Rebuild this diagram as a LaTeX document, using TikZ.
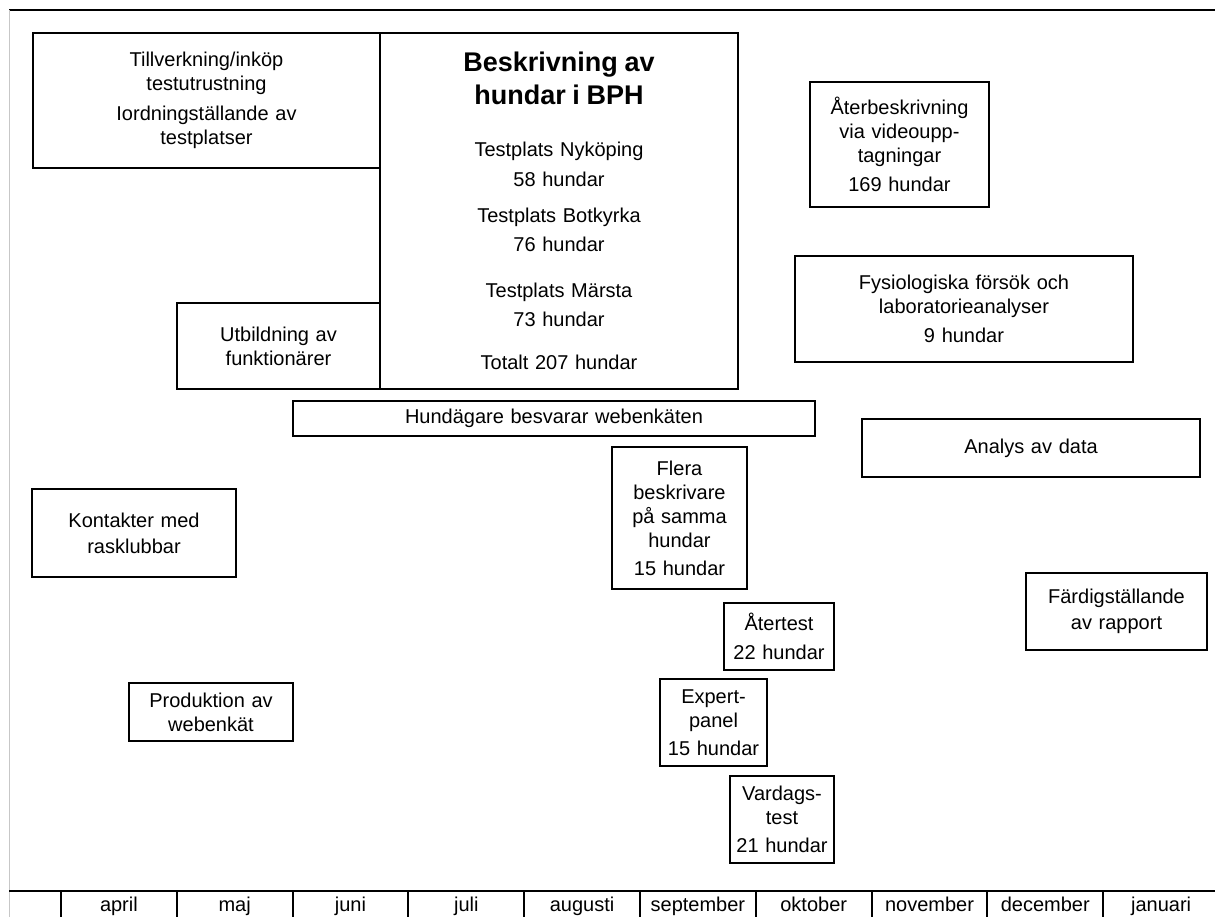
\documentclass[tikz,border=0pt]{standalone}
\usepackage{fontspec}
\setmainfont{Liberation Sans}
\usepackage{tikz}
\usetikzlibrary{positioning}
\definecolor{fgrey}{rgb}{0.78, 0.78, 0.78}
\tikzset{box/.style = {draw, line width = 2pt, inner sep = 0, align = center,
    font = \fontsize{20}{24}\selectfont}}
\tikzset{month/.style = {anchor = base, inner sep = 0, font = \fontsize{20}{24}\selectfont}}
\tikzset{rule/.style = {line width = 2pt}}
\newcommand{\bphtitle}{\fontsize{27}{33}\selectfont\bfseries}

\begin{document}
\begin{tikzpicture}[x = 1pt, y = -1pt]
    \useasboundingbox (0, 0) rectangle (1215, 917);

    % frame and time axis
    \coordinate (tl) at (9, 10);
    \coordinate (tr) at (1215, 10);
    \coordinate (bl) at (9, 917);
    \coordinate (al) at (9, 891);
    \coordinate (ar) at (1215, 891);
    \draw [rule] (tl) -- (tr);
    \draw [fgrey, line width = 1pt] (tl) -- (bl);
    \draw [rule] (al) -- (ar);
    \foreach \i in {0, ..., 9}
        \draw [rule] ({61 + 115.8 * \i}, 891) -- ({61 + 115.8 * \i}, 917);
    \foreach \m [count = \i from 0] in {april, maj, juni, juli, augusti, september,
        oktober, november, december, januari}
        \node [month] (m\i) at ({61 + 115.8 * (\i + 0.5)}, 911.5) {\m};

    % activities
    \node [box, minimum width = 347pt, minimum height = 135pt, text width = 335pt]
        (till) at (206.5, 100.5)
        {Tillverkning/inköp\\testutrustning\\[6pt]Iordningställande av\\testplatser};
    \node [box, minimum width = 358pt, minimum height = 356pt, text width = 345pt]
        (besk) at (559, 211)
        {{\bphtitle Beskrivning av\\hundar i BPH\\[28pt]}Testplats Nyköping\\[6pt]58 hundar\\[12pt]%
         Testplats Botkyrka\\[5pt]76 hundar\\[22pt]Testplats Märsta\\[5pt]73 hundar\\[19pt]%
         Totalt 207 hundar};
    \node [box, minimum width = 203pt, minimum height = 86pt, text width = 190pt]
        (utb) at (278.5, 346) {Utbildning av\\funktionärer};
    \node [box, minimum width = 522pt, minimum height = 35pt, text width = 510pt]
        (hund) at (554, 418.5) {Hundägare besvarar webenkäten};
    \node [box, minimum width = 179pt, minimum height = 125pt, text width = 170pt]
        (ater) at (899.5, 144.5) {Återbeskrivning\\via videoupp-\\tagningar\\[5pt]169 hundar};
    \node [box, minimum width = 338pt, minimum height = 106pt, text width = 325pt]
        (fys) at (964, 309) {Fysiologiska försök och\\laboratorieanalyser\\[5pt]9 hundar};
    \node [box, minimum width = 338pt, minimum height = 58pt, text width = 325pt]
        (analys) at (1031, 448) {Analys av data};
    \node [box, minimum width = 204pt, minimum height = 88pt, text width = 190pt]
        (kont) at (134, 533) {Kontakter med\\[2pt]rasklubbar};
    \node [box, minimum width = 135pt, minimum height = 142pt, text width = 128pt]
        (flera) at (679.5, 518) {Flera\\beskrivare\\på samma\\hundar\\[4pt]15 hundar};
    \node [box, minimum width = 110pt, minimum height = 67pt, text width = 104pt]
        (atert) at (779, 636.5) {Återtest\\[5pt]22 hundar};
    \node [box, minimum width = 181pt, minimum height = 77pt, text width = 170pt]
        (fard) at (1116.5, 611.5) {Färdigställande\\[2pt]av rapport};
    \node [box, minimum width = 164pt, minimum height = 58pt, text width = 155pt]
        (prod) at (211, 712) {Produktion av\\webenkät};
    \node [box, minimum width = 107pt, minimum height = 87pt, text width = 101pt]
        (expert) at (713.5, 722.5) {Expert-\\panel\\[4pt]15 hundar};
    \node [box, minimum width = 104pt, minimum height = 87pt, text width = 98pt]
        (vard) at (782, 819.5) {Vardags-\\test\\[4pt]21 hundar};
\end{tikzpicture}
\end{document}
